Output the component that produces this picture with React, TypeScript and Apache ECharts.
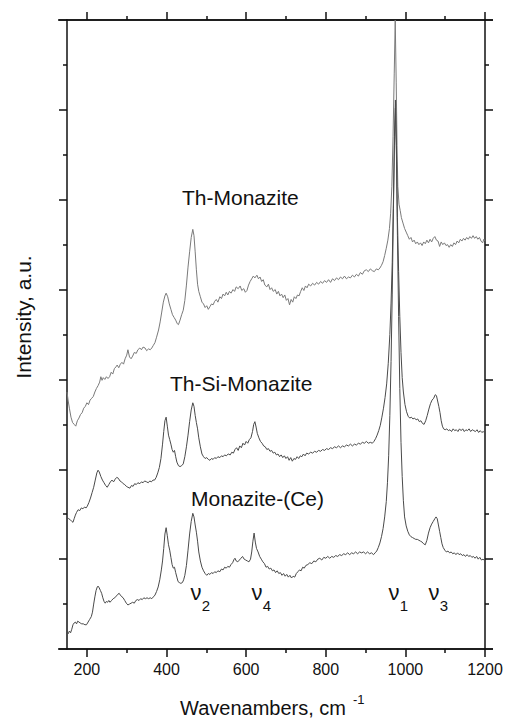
import React, { useEffect, useRef } from 'react';
import * as echarts from 'echarts';

// Raman spectra: wavenumber (cm-1) vs. offset intensity (a.u.)
const xMajorTicks = [200, 400, 600, 800, 1000, 1200];
const xMinorTicks = [300, 500, 700, 900, 1100];

const thMonazite: [number, number][] = [
  [150,2.86],[153,2.76],[156,2.68],[160,2.58],[164,2.52],[168,2.50],[172,2.48],[176,2.54],[180,2.57],[184,2.61],[188,2.63],[192,2.68],[196,2.70],[200,2.74],[204,2.72],[208,2.77],[212,2.79],[216,2.81],[220,2.86],[224,2.90],[228,2.93],[232,2.97],[235,3.03],[238,2.99],[241,3.02],[245,3.00],[249,3.03],[253,3.01],[257,3.03],[261,3.08],[265,3.06],[269,3.12],[273,3.14],[276,3.16],[280,3.13],[284,3.17],[288,3.19],[292,3.17],[296,3.23],[300,3.27],[303,3.33],[307,3.25],[311,3.23],[315,3.26],[319,3.30],[324,3.29],[328,3.33],[333,3.35],[337,3.33],[341,3.36],[346,3.35],[350,3.32],[355,3.34],[359,3.33],[363,3.35],[367,3.38],[371,3.41],[375,3.47],[380,3.55],[384,3.64],[388,3.75],[392,3.86],[396,3.93],[399,3.96],[403,3.92],[407,3.84],[411,3.78],[415,3.72],[419,3.69],[423,3.66],[427,3.62],[430,3.61],[434,3.66],[438,3.72],[442,3.77],[446,3.88],[450,4.05],[454,4.25],[458,4.42],[462,4.58],[466,4.67],[469,4.60],[472,4.42],[475,4.22],[478,4.06],[481,3.98],[485,3.92],[489,3.86],[493,3.84],[497,3.80],[501,3.82],[505,3.78],[509,3.81],[513,3.84],[517,3.83],[521,3.87],[525,3.89],[529,3.86],[534,3.92],[538,3.90],[542,3.95],[546,3.93],[550,3.97],[554,3.94],[558,3.98],[562,3.96],[567,4.00],[571,3.98],[575,4.03],[580,4.01],[585,4.04],[589,3.99],[594,4.01],[598,3.97],[602,3.99],[606,4.05],[610,4.09],[614,4.12],[618,4.15],[622,4.13],[627,4.16],[631,4.12],[635,4.14],[639,4.09],[643,4.11],[647,4.05],[652,4.03],[656,4.06],[660,4.00],[664,4.02],[668,3.98],[673,4.00],[677,3.95],[681,3.98],[685,3.93],[689,3.95],[693,3.91],[697,3.94],[701,3.88],[705,3.90],[709,3.83],[713,3.89],[717,3.86],[721,3.92],[725,3.90],[729,3.94],[733,3.93],[737,3.98],[741,4.02],[745,3.99],[749,4.04],[753,4.02],[757,4.06],[762,4.04],[767,4.07],[772,4.05],[777,4.08],[782,4.06],[787,4.09],[792,4.07],[797,4.10],[802,4.08],[807,4.11],[812,4.08],[817,4.12],[822,4.10],[827,4.13],[832,4.11],[837,4.14],[842,4.12],[847,4.15],[852,4.12],[857,4.14],[862,4.13],[867,4.16],[872,4.14],[877,4.17],[882,4.15],[887,4.19],[892,4.17],[897,4.21],[902,4.22],[907,4.20],[912,4.23],[917,4.21],[922,4.20],[927,4.23],[932,4.22],[936,4.24],[940,4.27],[944,4.31],[948,4.38],[952,4.46],[956,4.55],[960,4.68],[963,4.85],[966,5.15],[969,5.7],[972,6.4],[974.5,7.0],[977,6.3],[979,5.6],[981,5.15],[984,4.95],[987,4.88],[990,4.80],[994,4.74],[998,4.68],[1002,4.64],[1006,4.60],[1010,4.56],[1014,4.58],[1018,4.53],[1022,4.55],[1026,4.51],[1030,4.53],[1034,4.50],[1038,4.52],[1042,4.49],[1046,4.53],[1050,4.51],[1054,4.55],[1058,4.52],[1062,4.56],[1066,4.53],[1070,4.57],[1074,4.59],[1078,4.55],[1082,4.54],[1086,4.48],[1090,4.53],[1094,4.50],[1098,4.52],[1102,4.49],[1106,4.50],[1110,4.47],[1114,4.50],[1118,4.48],[1122,4.52],[1126,4.50],[1130,4.54],[1134,4.52],[1138,4.56],[1142,4.54],[1146,4.57],[1150,4.55],[1154,4.58],[1158,4.56],[1162,4.59],[1166,4.57],[1170,4.60],[1174,4.57],[1178,4.59],[1182,4.56],[1186,4.58],[1190,4.54],[1194,4.52],[1197,4.56],[1200,4.54]
];

const thSiMonazite: [number, number][] = [
  [150,1.47],[154,1.45],[158,1.44],[162,1.42],[165,1.41],[168,1.45],[171,1.49],[174,1.52],[178,1.55],[182,1.54],[186,1.57],[190,1.56],[194,1.58],[198,1.57],[201,1.59],[205,1.63],[209,1.68],[213,1.74],[217,1.80],[221,1.88],[225,1.96],[228,1.99],[231,1.97],[235,1.92],[239,1.88],[243,1.85],[247,1.82],[251,1.80],[255,1.83],[259,1.86],[263,1.88],[267,1.86],[271,1.89],[275,1.91],[279,1.90],[283,1.87],[287,1.86],[291,1.84],[295,1.83],[299,1.81],[303,1.80],[308,1.79],[312,1.82],[316,1.81],[320,1.84],[324,1.83],[328,1.85],[333,1.84],[337,1.86],[341,1.85],[345,1.87],[350,1.86],[354,1.85],[358,1.87],[362,1.86],[366,1.88],[370,1.88],[374,1.91],[378,1.96],[382,2.02],[386,2.12],[390,2.28],[393,2.42],[396,2.54],[399,2.58],[402,2.48],[405,2.38],[408,2.33],[411,2.28],[414,2.22],[417,2.19],[420,2.21],[423,2.14],[426,2.08],[430,2.04],[434,2.03],[438,2.04],[442,2.06],[446,2.14],[450,2.25],[454,2.38],[458,2.53],[462,2.66],[466,2.74],[469,2.70],[472,2.60],[475,2.52],[478,2.45],[481,2.35],[485,2.25],[489,2.17],[493,2.14],[497,2.12],[501,2.13],[505,2.11],[509,2.10],[513,2.12],[517,2.11],[521,2.13],[525,2.12],[529,2.14],[534,2.13],[538,2.15],[542,2.14],[546,2.16],[550,2.15],[555,2.17],[560,2.16],[564,2.19],[568,2.18],[572,2.22],[576,2.24],[580,2.21],[584,2.26],[588,2.24],[592,2.29],[596,2.27],[600,2.31],[604,2.29],[608,2.33],[612,2.35],[616,2.42],[619,2.50],[622,2.53],[625,2.47],[628,2.40],[632,2.35],[636,2.31],[640,2.29],[644,2.26],[648,2.25],[652,2.22],[656,2.23],[660,2.20],[664,2.21],[668,2.18],[672,2.19],[676,2.16],[680,2.17],[684,2.14],[688,2.16],[692,2.13],[696,2.15],[700,2.12],[704,2.14],[708,2.10],[712,2.13],[716,2.09],[720,2.12],[724,2.11],[728,2.14],[732,2.12],[736,2.15],[740,2.14],[744,2.17],[748,2.15],[752,2.18],[757,2.17],[762,2.19],[767,2.18],[772,2.20],[777,2.19],[782,2.21],[787,2.20],[792,2.22],[797,2.21],[802,2.23],[807,2.22],[812,2.24],[817,2.23],[822,2.25],[827,2.24],[832,2.26],[837,2.24],[842,2.26],[847,2.25],[852,2.27],[857,2.26],[862,2.28],[867,2.26],[872,2.28],[877,2.27],[882,2.29],[887,2.28],[892,2.30],[897,2.29],[902,2.31],[907,2.29],[912,2.30],[917,2.29],[921,2.31],[925,2.34],[929,2.38],[933,2.43],[937,2.49],[941,2.58],[945,2.68],[949,2.80],[953,2.95],[957,3.18],[961,3.5],[964,3.85],[967,4.3],[970,5.0],[972.5,5.7],[975,6.11],[977.5,5.6],[980,4.8],[983,4.2],[986,3.7],[989,3.3],[992,3.02],[995,2.86],[999,2.72],[1003,2.64],[1007,2.59],[1011,2.57],[1015,2.58],[1019,2.56],[1023,2.57],[1027,2.55],[1031,2.56],[1035,2.53],[1039,2.54],[1043,2.51],[1047,2.50],[1051,2.54],[1055,2.60],[1059,2.67],[1063,2.73],[1067,2.77],[1071,2.79],[1075,2.83],[1078,2.82],[1081,2.76],[1084,2.70],[1087,2.63],[1090,2.54],[1093,2.48],[1096,2.45],[1100,2.44],[1104,2.45],[1108,2.43],[1112,2.44],[1116,2.42],[1120,2.45],[1124,2.43],[1128,2.44],[1132,2.42],[1136,2.45],[1140,2.43],[1144,2.45],[1148,2.42],[1152,2.44],[1156,2.43],[1160,2.45],[1164,2.42],[1168,2.44],[1172,2.43],[1176,2.42],[1180,2.44],[1184,2.41],[1188,2.43],[1192,2.41],[1196,2.42],[1200,2.40]
];

const monaziteCe: [number, number][] = [
  [150,0.19],[153,0.17],[156,0.20],[159,0.18],[162,0.22],[165,0.27],[168,0.29],[171,0.30],[174,0.28],[177,0.31],[180,0.30],[183,0.29],[187,0.28],[191,0.28],[195,0.27],[199,0.27],[203,0.30],[207,0.33],[211,0.36],[214,0.41],[217,0.50],[220,0.58],[223,0.65],[226,0.69],[228,0.70],[231,0.68],[234,0.65],[237,0.62],[240,0.57],[243,0.53],[246,0.51],[249,0.53],[252,0.52],[255,0.54],[258,0.52],[262,0.54],[266,0.56],[270,0.57],[274,0.59],[278,0.61],[281,0.62],[284,0.60],[288,0.58],[291,0.57],[295,0.54],[299,0.51],[303,0.49],[307,0.50],[311,0.51],[315,0.52],[319,0.51],[323,0.54],[327,0.55],[331,0.54],[335,0.56],[339,0.55],[343,0.57],[347,0.56],[351,0.57],[355,0.56],[359,0.57],[363,0.56],[367,0.58],[371,0.60],[375,0.64],[379,0.69],[383,0.77],[387,0.88],[390,0.98],[393,1.12],[396,1.28],[399,1.35],[402,1.26],[405,1.16],[408,1.10],[411,1.02],[414,0.94],[417,0.90],[420,0.91],[423,0.85],[426,0.80],[429,0.75],[432,0.74],[436,0.73],[440,0.74],[443,0.77],[446,0.82],[450,0.93],[454,1.10],[458,1.28],[462,1.42],[466,1.51],[469,1.47],[472,1.38],[475,1.30],[478,1.20],[481,1.08],[485,0.98],[489,0.91],[493,0.87],[497,0.84],[501,0.82],[505,0.84],[509,0.83],[513,0.85],[517,0.84],[521,0.86],[525,0.85],[529,0.87],[534,0.86],[538,0.89],[542,0.88],[546,0.91],[550,0.90],[554,0.92],[558,0.91],[562,0.94],[566,0.96],[570,1.00],[572,1.01],[575,0.98],[579,0.97],[583,0.99],[587,1.01],[591,1.03],[595,1.00],[599,0.99],[603,0.98],[607,0.97],[611,1.00],[614,1.08],[617,1.20],[620,1.29],[623,1.19],[626,1.12],[630,1.08],[634,1.03],[638,1.00],[642,0.97],[646,0.95],[650,0.91],[654,0.92],[658,0.89],[662,0.90],[666,0.87],[670,0.88],[674,0.85],[678,0.87],[682,0.84],[686,0.85],[690,0.82],[694,0.84],[698,0.81],[702,0.83],[706,0.80],[710,0.82],[714,0.79],[718,0.81],[722,0.80],[726,0.84],[730,0.86],[734,0.88],[738,0.87],[742,0.91],[746,0.90],[750,0.93],[755,0.94],[760,0.96],[765,0.95],[770,0.98],[775,0.97],[780,1.00],[785,1.01],[790,0.99],[795,1.02],[800,1.01],[805,1.03],[810,1.01],[815,1.03],[820,1.02],[825,1.04],[830,1.03],[835,1.05],[840,1.04],[845,1.06],[850,1.05],[855,1.07],[860,1.05],[865,1.07],[870,1.06],[875,1.08],[880,1.06],[885,1.08],[890,1.07],[895,1.08],[900,1.06],[905,1.08],[910,1.06],[915,1.07],[920,1.05],[924,1.07],[928,1.09],[932,1.13],[936,1.18],[940,1.25],[944,1.34],[948,1.47],[952,1.64],[955,1.85],[958,2.15],[961,2.6],[964,3.2],[967,3.95],[970,4.9],[972.5,5.6],[975,6.02],[977.5,5.5],[980,4.6],[983,3.7],[986,2.9],[989,2.3],[992,1.92],[995,1.65],[998,1.47],[1002,1.37],[1006,1.31],[1010,1.27],[1014,1.25],[1018,1.24],[1022,1.23],[1026,1.22],[1030,1.22],[1034,1.21],[1038,1.20],[1042,1.19],[1046,1.17],[1050,1.16],[1054,1.21],[1058,1.29],[1062,1.35],[1066,1.39],[1070,1.42],[1074,1.45],[1077,1.47],[1080,1.45],[1083,1.38],[1086,1.31],[1089,1.24],[1092,1.17],[1095,1.13],[1099,1.10],[1103,1.08],[1107,1.09],[1111,1.07],[1115,1.08],[1119,1.06],[1123,1.07],[1127,1.05],[1131,1.07],[1135,1.05],[1139,1.06],[1143,1.04],[1147,1.05],[1151,1.03],[1155,1.05],[1159,1.03],[1163,1.04],[1167,1.02],[1171,1.03],[1175,1.01],[1179,1.03],[1183,1.00],[1187,1.02],[1191,0.99],[1195,1.00],[1200,0.98]
];

// Vibrational mode labels under the Monazite-(Ce) trace
const modeLabels: { sub: string; x: number }[] = [
  { sub: '2', x: 196 },
  { sub: '4', x: 257 },
  { sub: '1', x: 394 },
  { sub: '3', x: 434 },
];

const FONT = '"Liberation Sans", Arial, Helvetica, sans-serif';
const INK = '#111';

const frameLine = { show: true, onZero: false, lineStyle: { color: INK, width: 1.5 } };
const tickStyle = { color: INK, width: 1.5 };

function xAxisDef(position: 'top' | 'bottom', ticks: number[], len: number, withLine: boolean, withLabels: boolean) {
  return {
    type: 'value',
    position,
    min: 150,
    max: 1200,
    axisLine: withLine ? frameLine : { show: false, onZero: false },
    axisTick: { show: true, inside: false, length: len, customValues: ticks, lineStyle: tickStyle },
    axisLabel: withLabels
      ? {
          show: true,
          customValues: ticks,
          fontSize: 16,
          color: INK,
          fontFamily: FONT,
          margin: 12,
          formatter: (v: number) => String(v),
        }
      : { show: false },
    splitLine: { show: false },
  };
}

function yAxisDef(position: 'left' | 'right') {
  return {
    type: 'value',
    position,
    min: 0,
    max: 7,
    interval: 1,
    axisLine: frameLine,
    axisTick: { show: true, inside: false, length: 8, lineStyle: tickStyle },
    minorTick: { show: true, splitNumber: 2, length: 4, lineStyle: tickStyle },
    axisLabel: { show: false },
    splitLine: { show: false },
  };
}

function lineSeries(name: string, data: [number, number][], color: string) {
  return {
    name,
    type: 'line',
    data,
    xAxisIndex: 0,
    yAxisIndex: 0,
    showSymbol: false,
    symbol: 'none',
    clip: true,
    lineStyle: { color, width: 1 },
  };
}

function label(text: string, x: number, y: number, size: number, align = 'left') {
  return {
    type: 'text',
    x,
    y,
    style: { text, fill: INK, font: `${size}px ${FONT}`, textAlign: align, textVerticalAlign: 'middle' },
  };
}

export default function App() {
  const ref = useRef<HTMLDivElement>(null);

  useEffect(() => {
    if (!ref.current) return;
    const chart = echarts.init(ref.current, null, { renderer: 'svg' });

    const modeGraphics = modeLabels.flatMap((m) => [
      label('ν', m.x, 592, 22, 'center'),
      label(m.sub, m.x + 10, 605, 15, 'center'),
    ]);

    chart.setOption({
      animation: false,
      backgroundColor: '#fff',
      grid: { left: 67, right: 21, top: 20, bottom: 69, containLabel: false },
      xAxis: [
        xAxisDef('bottom', xMajorTicks, 8, true, true),
        xAxisDef('bottom', xMinorTicks, 4, false, false),
        xAxisDef('top', xMajorTicks, 8, true, false),
        xAxisDef('top', xMinorTicks, 4, false, false),
      ],
      yAxis: [yAxisDef('left'), yAxisDef('right')],
      series: [
        lineSeries('Th-Monazite', thMonazite, '#7a7a7a'),
        lineSeries('Th-Si-Monazite', thSiMonazite, '#4a4a4a'),
        lineSeries('Monazite-(Ce)', monaziteCe, '#4a4a4a'),
      ],
      graphic: [
        // horizontal frame lines run past the corners by a tick length
        { type: 'line', shape: { x1: 58, y1: 20, x2: 493, y2: 20 }, style: { stroke: INK, lineWidth: 1.5 } },
        { type: 'line', shape: { x1: 58, y1: 649, x2: 493, y2: 649 }, style: { stroke: INK, lineWidth: 1.5 } },
        label('Th-Monazite', 182, 197, 21),
        label('Th-Si-Monazite', 170, 383, 21),
        label('Monazite-(Ce)', 191, 498, 21),
        ...modeGraphics,
        label('Wavenambers, cm', 180, 708, 20),
        label('-1', 353, 699, 13),
        {
          type: 'text',
          x: 23,
          y: 317,
          rotation: Math.PI / 2,
          style: { text: 'Intensity, a.u.', fill: INK, font: `21px ${FONT}`, textAlign: 'center', textVerticalAlign: 'middle' },
        },
      ],
    });
    return () => chart.dispose();
  }, []);

  return (
    <div
      ref={ref}
      style={{ position: 'absolute', left: 0, top: 0, width: 506, height: 718, background: '#fff' }}
    />
  );
}
